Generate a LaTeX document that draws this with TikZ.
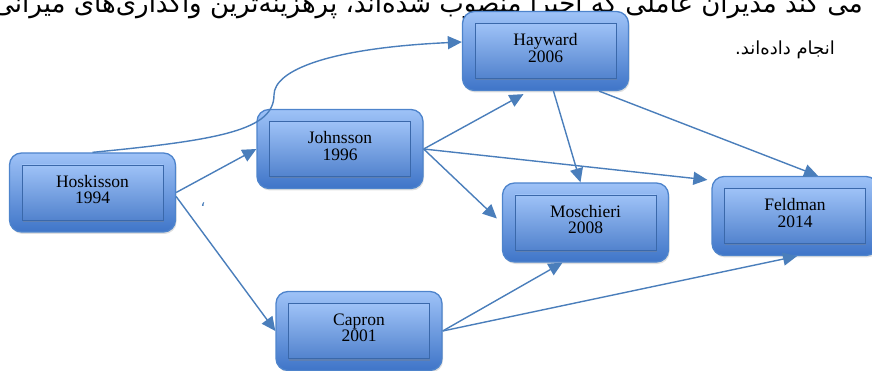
\documentclass[tikz,border=0pt]{standalone}
\usepackage{fontspec}
\setmainfont{Liberation Serif}
\newfontfamily\persianfont[Script=Arabic]{DejaVu Sans}
\TeXXeTstate=1
\usetikzlibrary{arrows.meta,shadows}

\definecolor{lineBlue}{HTML}{4A7EBB}
\definecolor{boxTop}{HTML}{9EC2F7}
\definecolor{boxBottom}{HTML}{3F75C8}
\definecolor{boxEdge}{HTML}{4E84CC}
\definecolor{innerEdge}{HTML}{3A68AA}

\begin{document}
\begin{tikzpicture}[x=1pt,y=-1pt,%%
  outerStyle/.style={rounded corners=12pt,draw=boxEdge,line width=1.3pt,
    top color=boxTop,bottom color=boxBottom,minimum width=166pt,
    minimum height=79pt,inner sep=0pt,
    drop shadow={opacity=0.25,shadow xshift=1pt,shadow yshift=-2pt}},%%
  innerStyle/.style={draw=innerEdge,line width=0.9pt,top color=boxTop,
    bottom color=boxBottom!90!white,minimum width=141pt,minimum height=55pt,
    inner sep=0pt,
    drop shadow={opacity=0.35,shadow xshift=0.5pt,shadow yshift=-2pt}},%%
  textStyle/.style={align=center,font=\fontsize{17.5}{16.5}\selectfont,inner sep=0pt},%%
  persianStyle/.style={font=\fontsize{18}{22}\selectfont\persianfont,inner sep=0pt},%%
  arrowStyle/.style={-{Triangle[length=14pt,width=13pt]},draw=lineBlue,line width=1.4pt}%%
]
%%
\useasboundingbox (0,0) rectangle (872,371);
\clip (0,0) rectangle (872,371);
%%
%% The two lines of running text above the picture.
\node[persianStyle,font=\fontsize{26}{30}\selectfont\persianfont,anchor=base east] (topLine) at (863,13)
  {\beginR می کند مدیران عاملی که اخیرا منصوب شده‌اند، پرهزینه‌ترین واگذاری‌های میرانی\endR};
\node[persianStyle,anchor=base east] (secondLine) at (835,55)
  {\beginR انجام داده‌اند.\endR};
%%
%% The boxes for the papers.
\node[outerStyle] (hos) at (92.5,192.5) {};
\node[outerStyle] (joh) at (340,149) {};
\node[outerStyle] (hay) at (545.5,51) {};
\node[outerStyle] (mos) at (585.5,222.5) {};
\node[outerStyle] (fel) at (795,216) {};
\node[outerStyle] (cap) at (359,331) {};
%%
%% The inner frames and the names.
\foreach \paper/\name/\year in {hos/Hoskisson/1994,joh/Johnsson/1996,
    hay/Hayward/2006,mos/Moschieri/2008,fel/Feldman/2014,cap/Capron/2001}{
  \node[innerStyle] (\paper Frame) at (\paper.center) {};
  \node[textStyle] (\paper Text) at ([yshift=3pt]\paper.center) {\name\\\year};
}
%%
%% The links from Hoskisson.
\draw[arrowStyle] (hos.east) -- (joh.west);
\draw[arrowStyle] ([yshift=-4pt]hos.east) -- (cap.west);
\draw[arrowStyle] (hos.north) .. controls (220,140) and (274,130) .. (274,95)
  .. controls (274,70) and (330,48) .. ([yshift=9pt]hay.west);
%%
%% The links from Johnsson.
\draw[arrowStyle] (joh.east) -- ([xshift=-22pt,yshift=-3pt]hay.south);
\draw[arrowStyle] (joh.east) -- ([xshift=-5pt,yshift=4pt]mos.west);
\draw[arrowStyle] (joh.east) -- ([xshift=-4pt,yshift=-4pt]fel.north west);
%%
%% The links from Hayward.
\draw[arrowStyle] ([xshift=8pt]hay.south) -- ([xshift=-5pt]mos.north);
\draw[arrowStyle] ([xshift=-30pt]hay.south east) -- ([xshift=23pt]fel.north);
%%
%% The links from Capron.
\draw[arrowStyle] (cap.east) -- ([xshift=-23pt]mos.south);
\draw[arrowStyle] (cap.east) -- ([xshift=2pt]fel.south);
%%
%% A stray comma below Hoskisson.
\node[persianStyle,text=lineBlue,font=\fontsize{16}{16}\selectfont\persianfont] (strayComma) at (203,205) {،};
\end{tikzpicture}
\end{document}
